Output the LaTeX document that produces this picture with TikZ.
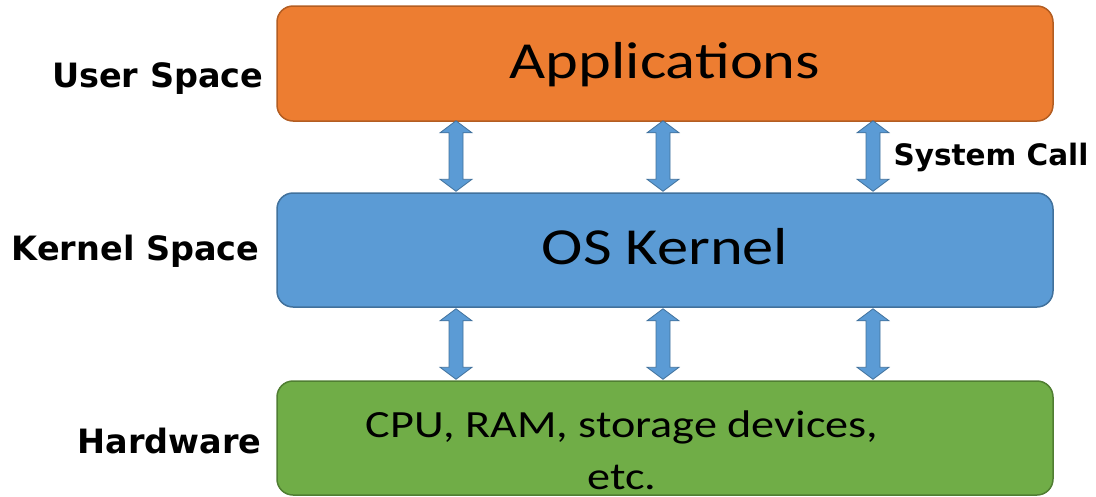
\documentclass[tikz,border=0pt]{standalone}
\usepackage{fontspec}
\usetikzlibrary{calc}
\newfontfamily\boxfont[FakeStretch=1.2]{Carlito}
\newfontfamily\labelfont{DejaVu Sans}

\definecolor{appfill}{HTML}{ED7D31}
\definecolor{appline}{HTML}{B35D22}
\definecolor{kernfill}{HTML}{5B9BD5}
\definecolor{kernline}{HTML}{41719C}
\definecolor{hwfill}{HTML}{70AD47}
\definecolor{hwline}{HTML}{507E32}

\tikzset{
  layer/.style={rounded corners=16pt, line width=1.5pt, minimum width=776pt,
    minimum height=114pt, inner sep=0pt, text=black},
  bigtext/.style={font=\boxfont\fontsize{52}{62}\selectfont, text height=33pt, text depth=4pt},
  sidelabel/.style={font=\labelfont\bfseries\fontsize{33.5}{40}\selectfont, anchor=base east},
  callarrow/.style={fill=kernfill, draw=kernline, line width=0.8pt, line join=miter},
}

% double-headed block arrow from a top tip to a bottom tip
\newcommand\syscallarrow[2]{%
  \draw[callarrow] (#1) -- ++(16,12) -- ++(-9,0) -- ($(#2)+(7,-12)$) -- ++(9,0)
    -- (#2) -- ++(-16,-12) -- ++(9,0) -- ($(#1)+(-7,12)$) -- ++(-9,0) -- cycle;}

\begin{document}
\begin{tikzpicture}[x=1pt, y=-1pt]
\path[use as bounding box] (0,0) rectangle (1096,496);

% the three layers
\node[layer, fill=appfill, draw=appline, bigtext, minimum height=115pt] (app) at (665,63.5) {Applications};
\node[layer, fill=kernfill, draw=kernline, bigtext] (kern) at (665,250) {OS Kernel};
\node[layer, fill=hwfill, draw=hwline] (hw) at (665,438) {};
\node[font=\boxfont\fontsize{38.5}{52}\selectfont, align=center, anchor=base, inner sep=0pt]
  (hwtext) at (622,489) {CPU, RAM, storage devices,\\etc.};

% side labels
\node[sidelabel] (lu) at (267,87) {User Space};
\node[sidelabel] (lk) at (263,260) {Kernel Space};
\node[sidelabel] (lh) at (265,453) {Hardware};

% arrows between the layers
\foreach \dx [count=\i] in {-209,-2,208} {
  \coordinate (ut\i) at ($(app.south)+(\dx,-1)$);
  \coordinate (ub\i) at ($(kern.north)+(\dx,-1)$);
  \coordinate (lt\i) at ($(kern.south)+(\dx,1)$);
  \coordinate (lb\i) at ($(hw.north)+(\dx,-1)$);
  \syscallarrow{ut\i}{ub\i}
  \syscallarrow{lt\i}{lb\i}
}

\node[font=\labelfont\bfseries\fontsize{29.5}{35}\selectfont, anchor=base west] (sc) at (890,165) {System Call};
\end{tikzpicture}
\end{document}
